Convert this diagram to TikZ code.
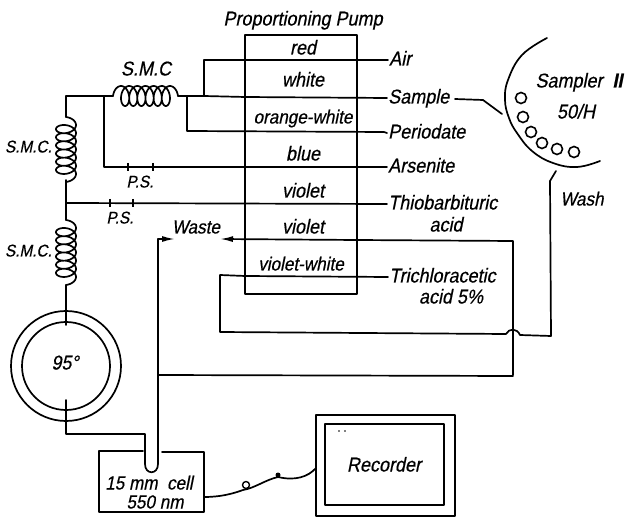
\documentclass[tikz,border=0pt]{standalone}
\usepackage{fontspec}
\usetikzlibrary{arrows.meta}
\newfontfamily\labfont[FakeSlant=0.2,FakeStretch=0.9,FakeBold=0.5]{Liberation Sans}
\newcommand{\hcoil}[2]{\draw[wire] plot[domain=-90:2250,samples=300,smooth] ({#1+(\x+90)/360*8.15+6*sin(\x)+6},{#2-10*cos(\x)});}
\newcommand{\vcoil}[2]{\draw[wire] plot[domain=-90:2250,samples=300,smooth] ({#1+10*cos(\x)},{#2+(\x+90)/360*8.15+6*sin(\x)+6});}
\tikzset{
  wire/.style={line width=1.7pt,line join=round,line cap=round},
  lab/.style={font=\labfont\fontsize{20}{22}\selectfont,inner sep=0pt,text height=14pt,text depth=3pt},
  labm/.style={lab,font=\labfont\fontsize{19}{21}\selectfont},
  labs/.style={lab,font=\labfont\fontsize{17}{19}\selectfont},
  lw/.style={lab,anchor=west,inner sep=1pt},
  hole/.style={circle,draw,line width=1.6pt,minimum size=11pt,inner sep=0pt},
  tick/.style={line width=1.3pt},
  tip/.style={-{Latex[length=13pt,width=6pt]}}
}
\begin{document}
\begin{tikzpicture}[x=1pt,y=-1pt]
\useasboundingbox (0,0) rectangle (629,518);
% pump
\node[draw,wire,minimum width=112pt,minimum height=259pt,inner sep=0pt] (pump) at (301,164.5) {};
\node[lab] (title) at (303,20) {Proportioning Pump};
\node[lab] (r1) at (303,49) {red};
\node[lab] (r2) at (303,81) {white};
\node[labm] (r3) at (303,118) {orange-white};
\node[lab] (r4) at (303,155) {blue};
\node[lab] (r5) at (303,192) {violet};
\node[lab] (r6) at (303,228) {violet};
\node[labm] (r7) at (301,265) {violet-white};
% right labels
\node[lw] (air) at (388,60) {Air};
\node[lw] (sample) at (387,98) {Sample};
\node[lw] (period) at (387,133) {Periodate};
\node[lw] (arsen) at (387,167) {Arsenite};
\node[lw] (thio) at (387,204) {Thiobarbituric};
\node[lab] (acid) at (446,226) {acid};
\node[lw] (tri) at (388,277) {Trichloracetic};
\node[lab] (acidb) at (451,298) {acid 5\%};
\node[labm] (waste) at (196,228) {Waste};
\node[labs] (ps1) at (140,182) {P.S.};
\node[labs] (ps2) at (120,218) {P.S.};
\node[lab] (smc1) at (146,70) {S.M.C};
\node[labs,anchor=east] (smc2) at (52,147) {S.M.C.};
\node[labs,anchor=east] (smc3) at (52,251) {S.M.C.};
\node[lab] (samp) at (579,82) {Sampler\ \ \textbf{II}};
\node[lab] (fifty) at (576,113) {50/H};
\node[labm] (wash) at (582,200) {Wash};
% coordinates
\coordinate (tl) at (66,96);
\coordinate (c1a) at (113,96);
\coordinate (c1b) at (178,96);
\coordinate (j1) at (104,96);
\coordinate (j2) at (187,96);
\coordinate (j3) at (204,96);
\coordinate (v1a) at (66,117);
\coordinate (v1b) at (66,180);
\coordinate (j4) at (66,203);
\coordinate (v2a) at (66,220);
\coordinate (v2b) at (66,285);
\coordinate (samplend) at (455,99);
% coils
\hcoil{113}{96}
\vcoil{66}{117}
\vcoil{66}{220}
% upper wiring
\draw[wire] (c1a) -- (tl) -- (v1a);
\draw[wire] (v1b) -- (j4) -- (v2a);
\draw[wire] (c1b) -- (j3) -- (245,97) -- (sample.west);
\draw[wire] (j3) -- (204,60) -- (air.west);
\draw[wire] (j2) -- (187,131) -- (384,132) -- (period.west);
\draw[wire] (j1) -- (104,167) -- (arsen.west);
\draw[wire] (j4) -- (thio.west);
% P.S. ticks
\foreach \tx/\ty in {128/167,153/167,110/203,133/203}
  \draw[tick] (\tx,\ty-4) -- (\tx,\ty+4);
% bath
\coordinate (bc) at (66,366);
\draw[wire] (bc) circle[radius=55];
\draw[wire] (bc) circle[radius=44];
\node[lab] (deg) at (65,364) {95°};
\draw[wire] (v2b) -- (66,325);
% cell
\node[labm] (c1) at (149,484) {15 mm\ \ cell};
\node[labm] (c2) at (155,503) {550 nm};
\draw[wire] (143,451) -- (99,451) -- (99,512) -- (204,512) -- (204,452) -- (162,452);
\draw[wire] (66,400) -- (66,434) -- (145,434) -- (145,464) .. controls (145,475) and (158,475) .. (158,464) -- (158,239);
\draw[wire,tip] (158,239) -- (175,239);
% waste line
\draw[wire,tip] (513,375) -- (513,241) -- (357,240) -- (220,239);
\draw[wire] (158,375) -- (513,376);
% loop
\draw[wire] (tri.west) -- (245,276) -- (220,275) -- (220,332) -- (506,334) .. controls (509,328) and (517,328) .. (520,335) -- (551,336) -- (550,181) -- (556,171);
% sampler
\draw[wire] plot[smooth,tension=0.7] coordinates {(547,38) (522,55) (508,80) (505,100) (509,118) (517,133) (532,151) (553,163) (577,167) (600,161)};
\foreach \n/\hx/\hy in {a/521/98,b/523/117,c/531/132,d/542/143,e/557/149,f/574/152}
  \node[hole] (h\n) at (\hx,\hy) {};
\draw[wire] (samplend) -- (483,100) -- (502,114);
% recorder
\node[draw,wire,minimum width=139pt,minimum height=101pt,inner sep=0pt] (recout) at (385.5,465.5) {};
\node[draw,wire,minimum width=119pt,minimum height=81pt,inner sep=0pt] (recin) at (384.5,464.5) {};
\node[lab] (rec) at (384,466) {Recorder};
\fill (339,431) circle[radius=0.9] (345,431) circle[radius=0.9];
% signal wire
\coordinate (s0) at (204,497);
\coordinate (s1) at (243,490);
\coordinate (s2) at (278,477);
\draw[wire] (s0) .. controls (220,497) and (232,494) .. (s1) .. controls (255,488) and (265,480) .. (s2) .. controls (295,481) and (308,477) .. (316,468);
\draw[wire,line width=1.4pt] (246,485) circle[radius=3.5];
\fill (278,475) circle[radius=2.5];
\end{tikzpicture}
\end{document}
